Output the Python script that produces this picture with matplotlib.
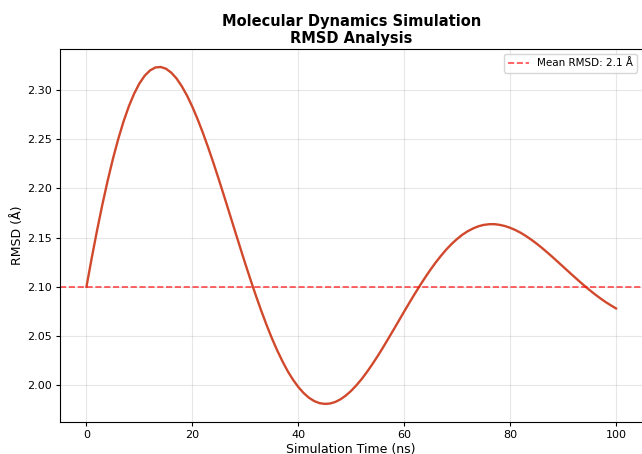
import matplotlib
matplotlib.use("Agg")
import matplotlib.pyplot as plt

time_ns = list(range(0, 101))
rmsd = [2.1000, 2.1294, 2.1573, 2.1835, 2.2078, 2.2301, 2.2502, 2.2680, 2.2834, 2.2963,
        2.3067, 2.3146, 2.3199, 2.3229, 2.3234, 2.3217, 2.3177, 2.3118, 2.3038, 2.2942,
        2.2829, 2.2701, 2.2562, 2.2412, 2.2254, 2.2089, 2.1919, 2.1747, 2.1574, 2.1402,
        2.1232, 2.1067, 2.0908, 2.0756, 2.0612, 2.0477, 2.0354, 2.0242, 2.0141, 2.0054,
        1.9980, 1.9919, 1.9871, 1.9837, 1.9816, 1.9808, 1.9812, 1.9828, 1.9856, 1.9894,
        1.9942, 1.9999, 2.0063, 2.0135, 2.0213, 2.0295, 2.0382, 2.0472, 2.0563, 2.0655,
        2.0748, 2.0839, 2.0928, 2.1014, 2.1097, 2.1176, 2.1250, 2.1318, 2.1381, 2.1437,
        2.1486, 2.1529, 2.1564, 2.1592, 2.1614, 2.1628, 2.1635, 2.1636, 2.1629, 2.1617,
        2.1599, 2.1576, 2.1548, 2.1515, 2.1478, 2.1438, 2.1395, 2.1349, 2.1302, 2.1253,
        2.1204, 2.1155, 2.1106, 2.1058, 2.1011, 2.0966, 2.0923, 2.0883, 2.0845, 2.0811,
        2.0779]
mean_rmsd = 2.1

fig = plt.figure(figsize=(6.42, 4.54), dpi=100)
ax = fig.add_axes([60 / 642, 1 - 422 / 454, 582.5 / 642, 373 / 454])
ax.plot(time_ns, rmsd, color='#d1492c', linewidth=1.7)
ax.axhline(mean_rmsd, color='red', linestyle='--', alpha=0.7, linewidth=1.2,
           label=f'Mean RMSD: {mean_rmsd} Å')
ax.set_xlim(-5, 105)
ax.set_ylim(1.9624, 2.3417)
ax.set_yticks([2.00, 2.05, 2.10, 2.15, 2.20, 2.25, 2.30])
ax.grid(True, alpha=0.3)
ax.tick_params(labelsize=8, length=3, pad=3)
ax.set_xlabel('Simulation Time (ns)', fontsize=9, labelpad=2)
ax.set_ylabel('RMSD (Å)', fontsize=9, labelpad=2)
ax.set_title('Molecular Dynamics Simulation\nRMSD Analysis', fontsize=10.5,
             fontweight='bold', linespacing=1.2, pad=4)
ax.legend(loc='upper right', fontsize=7.5)
fig.savefig('out.png', dpi=100)
